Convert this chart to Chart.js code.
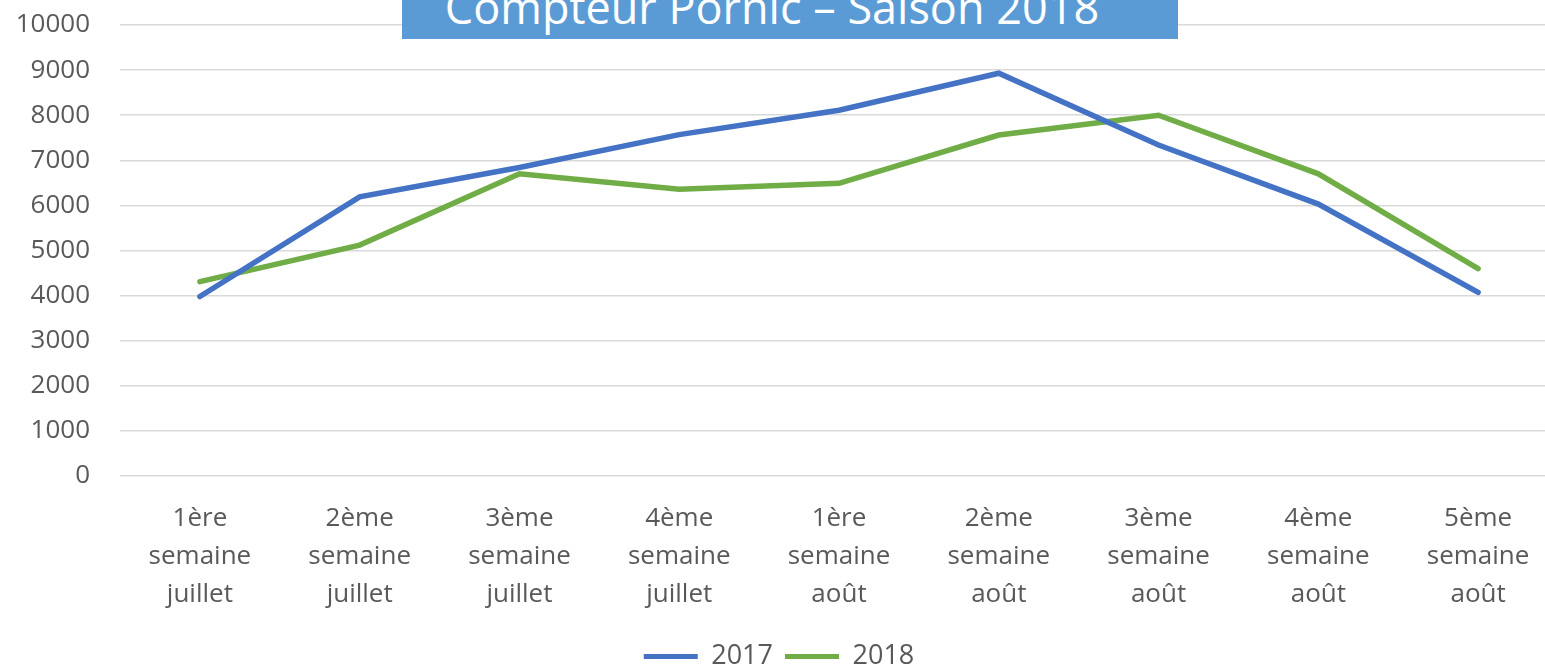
<!DOCTYPE html>
<html>
<head>
<meta charset="utf-8">
<script src="https://cdn.jsdelivr.net/npm/chart.js@4.4.1/dist/chart.umd.min.js"></script>
<style>
    html, body { margin: 0; padding: 0; background: #fff; overflow: hidden; }
    #wrap { position: relative; width: 1545px; height: 669px; overflow: hidden; }
    #chart-box { position: absolute; left: 0; top: 0; width: 1560px; height: 669px; }
    #title-box {
        position: absolute; left: 402px; top: 0; width: 776px; height: 39px;
        background: #5B9BD5; overflow: hidden;
    }
    #title-box span {
        position: absolute; left: 0; right: 0; top: -15px; text-align: center;
        font-family: "Open Sans", sans-serif; font-size: 45px; line-height: 44px;
        color: #fff; white-space: nowrap; padding-right: 36px;
    }
</style>
</head>
<body>
<div id="wrap">
    <div id="chart-box"><canvas id="counter-chart" width="1560" height="669"></canvas></div>
    <div id="title-box"><span>Compteur Pornic – Saison 2018</span></div>
</div>
<script>
// Data
const weeks = [
    ['1ère', 'semaine', 'juillet'],
    ['2ème', 'semaine', 'juillet'],
    ['3ème', 'semaine', 'juillet'],
    ['4ème', 'semaine', 'juillet'],
    ['1ère', 'semaine', 'août'],
    ['2ème', 'semaine', 'août'],
    ['3ème', 'semaine', 'août'],
    ['4ème', 'semaine', 'août'],
    ['5ème', 'semaine', 'août']
];
const counts2017 = [3980, 6190, 6840, 7570, 8110, 8930, 7340, 6030, 4070];
const counts2018 = [4310, 5120, 6700, 6360, 6490, 7560, 8000, 6700, 4600];
const yTicks = [0, 1000, 2000, 3000, 4000, 5000, 6000, 7000, 8000, 9000, 10000];

const textColor = '#595959';
const gridColor = '#D9D9D9';

const ctx = document.getElementById('counter-chart').getContext('2d');
new Chart(ctx, {
    type: 'line',
    data: {
        labels: weeks,
        datasets: [
            {
                label: '2017',
                data: counts2017,
                borderColor: '#4472C4',
                backgroundColor: '#4472C4',
                borderWidth: 5.5,
                pointRadius: 0,
                tension: 0,
                borderCapStyle: 'round'
            },
            {
                label: '2018',
                data: counts2018,
                borderColor: '#70AD47',
                backgroundColor: '#70AD47',
                borderWidth: 5.5,
                pointRadius: 0,
                tension: 0,
                borderCapStyle: 'round'
            }
        ]
    },
    options: {
        responsive: false,
        animation: false,
        layout: { padding: { top: 25, right: 2, left: 0, bottom: -11 } },
        plugins: {
            tooltip: { enabled: false },
            legend: {
                position: 'bottom',
                labels: {
                    color: textColor,
                    font: { family: 'Open Sans', size: 27 },
                    boxWidth: 54,
                    boxHeight: 5,
                    padding: 12,
                    generateLabels: (chart) =>
                        Chart.defaults.plugins.legend.labels.generateLabels(chart)
                            .map(l => Object.assign(l, { lineWidth: 0 }))
                }
            }
        },
        scales: {
            x: {
                offset: true,
                grid: { display: false },
                border: { display: false },
                ticks: {
                    color: textColor,
                    font: { family: 'Open Sans', size: 26, lineHeight: 1.46 },
                    padding: 16,
                    maxRotation: 0,
                    autoSkip: false
                },
                afterFit: (scale) => { scale.height = 155; }
            },
            y: {
                min: 0,
                max: 10000,
                afterBuildTicks: (scale) => { scale.ticks = yTicks.map(v => ({ value: v })); },
                grid: { color: gridColor, lineWidth: 1.5, drawTicks: false },
                border: { display: false },
                ticks: {
                    color: textColor,
                    font: { family: 'Open Sans', size: 26 },
                    padding: 30,
                    callback: (v) => String(v)
                },
                afterFit: (scale) => {
                    scale.width = 120;
                    scale.paddingTop = 0;
                    scale.paddingBottom = 0;
                }
            }
        }
    }
});
</script>
</body>
</html>
